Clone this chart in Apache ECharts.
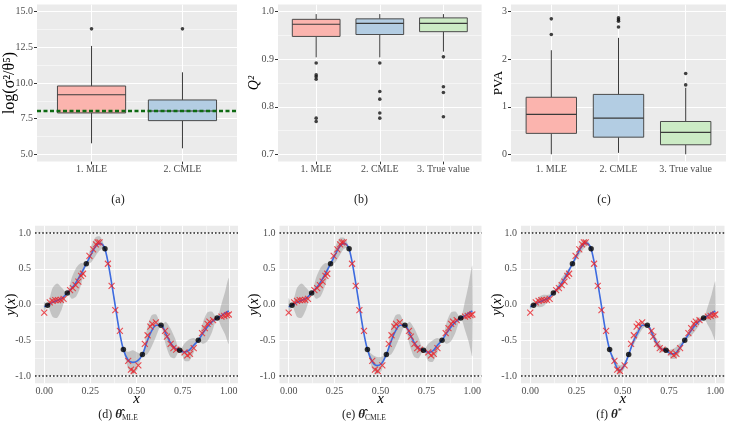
<!DOCTYPE html>
<html><head><meta charset="utf-8">
<script src="https://cdn.jsdelivr.net/npm/echarts@6/dist/echarts.min.js"></script>
<style>html,body{margin:0;padding:0;background:#fff}#c{width:729px;height:429px}</style>
</head><body><div id="c"></div>
<script>
// ---------------- data ----------------
// (a) log(sigma^2/theta^5)
const aCats = ['1. MLE', '2. CMLE'];
const aBox = [[5.77, 7.90, 9.18, 9.79, 12.6], [5.42, 7.36, 8.04, 8.81, 10.75]]; // low, q1, median, q3, high
const aOut = [[13.8], [13.8]];
const aRefLine = 8.03;
const aTicks = [5, 7.5, 10, 12.5, 15];
const aMinor = [6.25, 8.75, 11.25, 13.75];
// (b) Q2
const bCats = ['1. MLE', '2. CMLE', '3. True value'];
const bBox = [[0.904, 0.948, 0.9735, 0.984, 0.995], [0.904, 0.952, 0.9755, 0.985, 0.995], [0.916, 0.958, 0.9755, 0.987, 0.995]];
const bOut = [[0.892, 0.867, 0.863, 0.858, 0.776, 0.769], [0.892, 0.832, 0.816, 0.787, 0.776], [0.905, 0.842, 0.830, 0.779]];
const bTicks = [0.7, 0.8, 0.9, 1.0];
const bMinor = [0.75, 0.85, 0.95];
// (c) PVA
const cCats = ['1. MLE', '2. CMLE', '3. True value'];
const cBox = [[0.0, 0.44, 0.84, 1.20, 2.19], [0.03, 0.36, 0.76, 1.26, 2.45], [0.0, 0.20, 0.46, 0.69, 1.40]];
const cOut = [[2.85, 2.52], [2.87, 2.83, 2.80, 2.68], [1.70, 1.46]];
const cTicks = [0, 1, 2, 3];
const cMinor = [0.5, 1.5, 2.5];
// (d)-(f) GP predictions
const xGrid = [0, 0.018, 0.045, 0.07, 0.095, 0.125, 0.15, 0.175, 0.2, 0.228, 0.25, 0.278, 0.3, 0.315, 0.329, 0.35, 0.38, 0.405, 0.429, 0.455, 0.48, 0.505, 0.532, 0.557, 0.582, 0.607, 0.633, 0.658, 0.683, 0.708, 0.734, 0.76, 0.785, 0.81, 0.835, 0.86, 0.885, 0.91, 0.937, 0.96, 0.98, 1.0];
const meanD = [-0.03, -0.012, 0.03, 0.055, 0.085, 0.16, 0.23, 0.32, 0.43, 0.57, 0.68, 0.81, 0.855, 0.84, 0.78, 0.53, 0.06, -0.34, -0.63, -0.78, -0.81, -0.79, -0.70, -0.52, -0.37, -0.29, -0.29, -0.40, -0.53, -0.61, -0.64, -0.665, -0.64, -0.57, -0.50, -0.40, -0.31, -0.24, -0.19, -0.155, -0.12, -0.09];
const meanE = [-0.03, -0.012, 0.03, 0.055, 0.085, 0.16, 0.23, 0.32, 0.43, 0.57, 0.68, 0.81, 0.855, 0.84, 0.78, 0.53, 0.06, -0.34, -0.63, -0.80, -0.855, -0.83, -0.70, -0.52, -0.37, -0.29, -0.29, -0.40, -0.53, -0.61, -0.64, -0.67, -0.65, -0.57, -0.50, -0.40, -0.31, -0.24, -0.19, -0.155, -0.12, -0.09];
const meanF = [-0.03, -0.012, 0.03, 0.055, 0.085, 0.16, 0.23, 0.32, 0.43, 0.57, 0.68, 0.81, 0.86, 0.845, 0.78, 0.53, 0.06, -0.34, -0.63, -0.80, -0.92, -0.87, -0.70, -0.52, -0.39, -0.29, -0.29, -0.40, -0.54, -0.62, -0.64, -0.69, -0.68, -0.60, -0.50, -0.40, -0.31, -0.24, -0.19, -0.155, -0.12, -0.09];
const bandD = [0.07, 0, 0.2, 0.24, 0.15, 0, 0.15, 0.2, 0.15, 0, 0.1, 0.13, 0.1, 0.06, 0, 0.02, 0.03, 0.02, 0, 0.12, 0.17, 0.12, 0, 0.18, 0.22, 0.15, 0, 0.16, 0.2, 0.14, 0, 0.12, 0.15, 0.1, 0, 0.15, 0.2, 0.14, 0, 0.16, 0.3, 0.46];
const bandE = [0.12, 0, 0.2, 0.24, 0.15, 0, 0.15, 0.2, 0.15, 0, 0.1, 0.12, 0.08, 0.05, 0, 0.02, 0.03, 0.02, 0, 0.1, 0.12, 0.1, 0, 0.18, 0.22, 0.15, 0, 0.16, 0.2, 0.14, 0, 0.12, 0.15, 0.1, 0, 0.15, 0.2, 0.14, 0, 0.2, 0.4, 0.63];
const bandF = [0.04, 0, 0.07, 0.08, 0.05, 0, 0.05, 0.07, 0.05, 0, 0.05, 0.07, 0.05, 0.03, 0, 0.01, 0.02, 0.01, 0, 0.05, 0.07, 0.05, 0, 0.05, 0.06, 0.05, 0, 0.05, 0.06, 0.05, 0, 0.06, 0.08, 0.06, 0, 0.06, 0.08, 0.06, 0, 0.13, 0.26, 0.41];
const trainX = [0.018, 0.125, 0.228, 0.329, 0.429, 0.532, 0.633, 0.734, 0.835, 0.937];
const trainY = [-0.012, 0.16, 0.57, 0.78, -0.63, -0.70, -0.29, -0.64, -0.50, -0.19];
const testX = [0.00, 0.03, 0.045, 0.06, 0.075, 0.09, 0.105, 0.14, 0.155, 0.17, 0.185, 0.20, 0.21, 0.245, 0.265, 0.28, 0.29, 0.30, 0.345, 0.365, 0.385, 0.41, 0.455, 0.47, 0.485, 0.51, 0.545, 0.56, 0.575, 0.585, 0.605, 0.655, 0.665, 0.685, 0.70, 0.715, 0.76, 0.775, 0.79, 0.81, 0.855, 0.87, 0.885, 0.895, 0.915, 0.96, 0.975, 0.99, 1.00];
const testY = [-0.115, 0.03, 0.05, 0.06, 0.06, 0.065, 0.08, 0.20, 0.23, 0.27, 0.32, 0.40, 0.43, 0.68, 0.77, 0.84, 0.87, 0.87, 0.57, 0.26, -0.08, -0.37, -0.79, -0.91, -0.93, -0.85, -0.55, -0.43, -0.31, -0.27, -0.25, -0.37, -0.45, -0.55, -0.61, -0.63, -0.67, -0.71, -0.69, -0.61, -0.40, -0.33, -0.27, -0.24, -0.22, -0.17, -0.16, -0.15, -0.14];
const lxTicks = [0, 0.25, 0.5, 0.75, 1];
const lxMinor = [0.125, 0.375, 0.625, 0.875];
const lyTicks = [-1, -0.5, 0, 0.5, 1];
const lyMinor = [-0.75, -0.25, 0.25, 0.75];
const boundLines = [-1, 1];

// ---------------- styling ----------------
const FONT = 'Liberation Serif';
const TICKC = '#4D4D4D';
const BOXFILL = ['#FBB4AE', '#B3CDE3', '#CCEBC5'];

const grids = [
  { left: 37, top: 4.6, width: 200, height: 156.8 },
  { left: 278, top: 4.6, width: 203.6, height: 156.8 },
  { left: 511, top: 4.6, width: 215, height: 156.8 },
  { left: 35, top: 225.85, width: 203, height: 157.3 },
  { left: 279.5, top: 225.85, width: 202, height: 157.3 },
  { left: 521, top: 225.85, width: 203.5, height: 157.3 }
].map(g => Object.assign({ show: true, backgroundColor: '#EBEBEB', borderWidth: 0, containLabel: false, outerBoundsMode: 'none' }, g));

const option = { animation: false, grid: grids, xAxis: [], yAxis: [], series: [], graphic: [] };

function axisCommon(ticks, fmt, margin) {
  return {
    axisLine: { show: false },
    splitLine: { show: false },
    minorSplitLine: { show: false },
    nameMoveOverlap: false,
    axisTick: { show: true, customValues: ticks, length: 3, lineStyle: { color: '#333', width: 1 } },
    axisLabel: { show: true, customValues: ticks, formatter: fmt, fontFamily: FONT, fontSize: 10, color: TICKC, margin: margin }
  };
}
function addAxes(gi, xr, xticks, xfmt, yr, yticks, yfmt, yname, yGap, xname) {
  option.xAxis.push(Object.assign({
    type: 'value', gridIndex: gi, min: xr[0], max: xr[1],
    name: xname || '', nameLocation: 'middle', nameGap: 8,
    nameTextStyle: { fontFamily: FONT, fontSize: 15, fontStyle: 'italic', color: '#000' }
  }, axisCommon(xticks, xfmt, 3)));
  option.yAxis.push(Object.assign({
    type: 'value', gridIndex: gi, min: yr[0], max: yr[1],
    name: yname.text, nameLocation: 'middle', nameGap: yGap, nameRotate: 90,
    nameTextStyle: Object.assign({ fontFamily: FONT, fontSize: 13, color: '#000' }, yname.style || {})
  }, axisCommon(yticks, yfmt, 4)));
}
function gridLines(gi, xMaj, xMin, yMaj, yMin) {
  const d = [];
  xMaj.forEach(v => d.push({ xAxis: v, lineStyle: { width: 1.1 } }));
  xMin.forEach(v => d.push({ xAxis: v, lineStyle: { width: 0.5 } }));
  yMaj.forEach(v => d.push({ yAxis: v, lineStyle: { width: 1.1 } }));
  yMin.forEach(v => d.push({ yAxis: v, lineStyle: { width: 0.5 } }));
  option.series.push({
    type: 'scatter', xAxisIndex: gi, yAxisIndex: gi, data: [], symbolSize: 0, silent: true, z: 1,
    markLine: { silent: true, z: 1, symbol: ['none', 'none'], label: { show: false }, animation: false,
      lineStyle: { color: '#FFFFFF', type: 'solid' }, emphasis: { disabled: true }, data: d }
  });
}
function hLines(gi, vals, style) {
  option.series.push({
    type: 'scatter', xAxisIndex: gi, yAxisIndex: gi, data: [], symbolSize: 0, silent: true, z: 6,
    markLine: { silent: true, z: 6, symbol: ['none', 'none'], label: { show: false }, animation: false,
      lineStyle: style, emphasis: { disabled: true }, data: vals.map(v => ({ yAxis: v })) }
  });
}
function boxPanel(gi, cats, box, outs, yr, yticks, yfmt, yname, yGap) {
  const n = cats.length;
  addAxes(gi, [0.4, n + 0.6], cats.map((c, i) => i + 1), v => cats[Math.round(v) - 1] || '', yr, yticks, yfmt, yname, yGap);
  gridLines(gi, cats.map((c, i) => i + 1), [], yticks, yname.minor);
  option.series.push({
    type: 'custom', xAxisIndex: gi, yAxisIndex: gi, z: 3, silent: true,
    encode: { x: 0, y: [1, 2, 3, 4, 5] },
    data: box.map((b, i) => [i + 1].concat(b).concat([i])),
    renderItem: function (params, api) {
      const x = api.value(0);
      const lo = api.coord([x, api.value(1)]);
      const q1 = api.coord([x, api.value(2)]);
      const md = api.coord([x, api.value(3)]);
      const q3 = api.coord([x, api.value(4)]);
      const hi = api.coord([x, api.value(5)]);
      const w = api.size([0.75, 0])[0];
      const st = { stroke: '#3a3a3a', lineWidth: 1, fill: null };
      return { type: 'group', children: [
        { type: 'line', shape: { x1: lo[0], y1: lo[1], x2: q1[0], y2: q1[1] }, style: st },
        { type: 'line', shape: { x1: q3[0], y1: q3[1], x2: hi[0], y2: hi[1] }, style: st },
        { type: 'rect', shape: { x: q3[0] - w / 2, y: q3[1], width: w, height: q1[1] - q3[1] },
          style: { fill: BOXFILL[api.value(6)], stroke: '#4a4a4a', lineWidth: 1 } },
        { type: 'line', shape: { x1: md[0] - w / 2, y1: md[1], x2: md[0] + w / 2, y2: md[1] }, style: { stroke: '#3a3a3a', lineWidth: 1.1 } }
      ] };
    }
  });
  const pts = [];
  outs.forEach((arr, i) => arr.forEach(v => pts.push([i + 1, v])));
  option.series.push({ type: 'scatter', xAxisIndex: gi, yAxisIndex: gi, z: 4, silent: true, data: pts,
    symbol: 'circle', symbolSize: 3.6, itemStyle: { color: '#111' } });
}
function gpPanel(gi, mean, band, yGap) {
  const yname = { text: '{i|y}({i|x})', style: { fontSize: 14, rich: { i: { fontStyle: 'italic', fontSize: 14, fontFamily: FONT } } } };
  addAxes(gi, [-0.05, 1.05], lxTicks, v => v.toFixed(2), [-1.1, 1.1], lyTicks, v => v.toFixed(1), yname, yGap, 'x');
  gridLines(gi, lxTicks, lxMinor, lyTicks, lyMinor);
  // confidence ribbon drawn as one polygon through the axes' scales
  option.series.push({
    type: 'custom', xAxisIndex: gi, yAxisIndex: gi, z: 2, silent: true,
    encode: { x: 0, y: [1, 2] },
    data: xGrid.map((x, i) => [x, mean[i] - band[i], mean[i] + band[i]]),
    renderItem: function (params, api) {
      if (params.dataIndex !== 0) return null;
      const pts = [];
      for (let i = 0; i < xGrid.length; i++) pts.push(api.coord([xGrid[i], mean[i] - band[i]]));
      for (let i = xGrid.length - 1; i >= 0; i--) pts.push(api.coord([xGrid[i], mean[i] + band[i]]));
      return { type: 'polygon', shape: { points: pts, smooth: 0.25 }, style: { fill: 'rgba(140,140,140,0.42)' } };
    }
  });
  option.series.push({ type: 'line', xAxisIndex: gi, yAxisIndex: gi, data: xGrid.map((x, i) => [x, mean[i]]),
    symbol: 'none', smooth: 0.35, lineStyle: { color: '#3D6BE0', width: 1.6 }, silent: true, z: 3 });
  option.series.push({ type: 'scatter', xAxisIndex: gi, yAxisIndex: gi, data: testX.map((x, i) => [x, testY[i]]),
    symbol: 'path://M0 0L10 10M10 0L0 10', symbolSize: 6,
    itemStyle: { color: 'none', borderColor: '#E8232A', borderWidth: 1.1 }, silent: true, z: 4 });
  option.series.push({ type: 'scatter', xAxisIndex: gi, yAxisIndex: gi, data: trainX.map((x, i) => [x, trainY[i]]),
    symbol: 'circle', symbolSize: 5.5, itemStyle: { color: '#000' }, silent: true, z: 5 });
  hLines(gi, boundLines, { color: '#222', type: [1.6, 2], width: 1.7 });
}

boxPanel(0, aCats, aBox, aOut, [4.5, 15.5], aTicks, v => v.toFixed(1),
  { text: 'log(σ²/θ⁵)', minor: aMinor, style: { fontSize: 16 } }, 19);
hLines(0, [aRefLine], { color: '#0E6A12', type: [4, 2.5], width: 2.3 });
boxPanel(1, bCats, bBox, bOut, [0.685, 1.015], bTicks, v => v.toFixed(1),
  { text: 'Q²', minor: bMinor, style: { fontStyle: 'italic', fontSize: 14 } }, 17);
boxPanel(2, cCats, cBox, cOut, [-0.15, 3.15], cTicks, v => String(Math.round(v)),
  { text: 'PVA', minor: cMinor, style: { fontSize: 13 } }, 6);
gpPanel(3, meanD, bandD, 17);
gpPanel(4, meanE, bandE, 18);
gpPanel(5, meanF, bandF, 17);

function caption(x, y, text, rich) {
  option.graphic.push({ type: 'text', x: x, y: y, silent: true, z: 10,
    style: { text: text, rich: rich || {}, fontFamily: FONT, fontSize: 12, fill: '#222', align: 'center', verticalAlign: 'middle' } });
}
const capRich = {
  b: { fontFamily: FONT, fontSize: 13, fontWeight: 'bold', fontStyle: 'italic', fill: '#222' },
  s: { fontFamily: FONT, fontSize: 7.5, fill: '#222', padding: [7, 0, 0, 0] },
  p: { fontFamily: FONT, fontSize: 8, fill: '#222', padding: [0, 0, 7, 0] }
};
caption(118, 200, '(a)');
caption(361, 200, '(b)');
caption(604, 200, '(c)');
caption(118, 415, '(d) {b|θ̂}{s|MLE}', capRich);
caption(364, 415, '(e) {b|θ̂}{s|CMLE}', capRich);
caption(609, 415, '(f) {b|θ}{p|*}', capRich);

const chart = echarts.init(document.getElementById('c'), null, { renderer: 'canvas' });
chart.setOption(option);
</script></body></html>
